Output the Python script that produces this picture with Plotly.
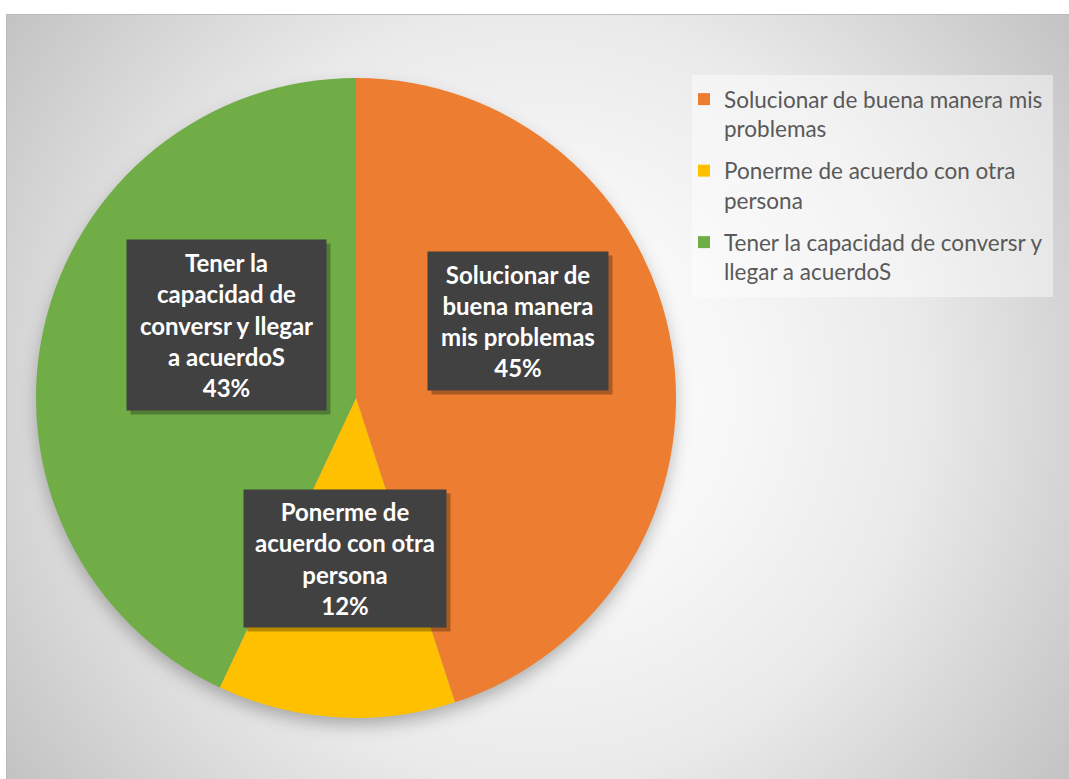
import base64
import plotly.graph_objects as go

# ---- data ----
categories = [
    "Solucionar de buena manera mis problemas",
    "Ponerme de acuerdo con otra persona",
    "Tener la capacidad de conversr y llegar a acuerdoS",
]
values = [45, 12, 43]
colors = ["#ED7D31", "#FFC000", "#70AD47"]
legend_labels = [
    "Solucionar de buena manera mis<br>problemas",
    "Ponerme de acuerdo con otra<br>persona",
    "Tener la capacidad de conversr y<br>llegar a acuerdoS",
]
box_labels = [
    "Solucionar de<br>buena manera<br>mis problemas",
    "Ponerme de<br>acuerdo con otra<br>persona",
    "Tener la<br>capacidad de<br>conversr y llegar<br>a acuerdoS",
]

W, H = 1069, 779
FONT = "Lato, 'Open Sans', sans-serif"

# background: radial gradient + soft pie shadow + legend panel
bg_w, bg_h = 1063, 765
svg = f'''<svg xmlns="http://www.w3.org/2000/svg" width="{bg_w}" height="{bg_h}" viewBox="0 0 {bg_w} {bg_h}">
<defs>
<radialGradient id="g" gradientUnits="userSpaceOnUse" cx="531" cy="382" r="660">
<stop offset="0" stop-color="#ffffff"/>
<stop offset="0.3" stop-color="#f7f7f7"/>
<stop offset="0.58" stop-color="#eaeaea"/>
<stop offset="1" stop-color="#c2c2c2"/>
</radialGradient>
<filter id="b" x="-20%" y="-20%" width="140%" height="140%"><feGaussianBlur stdDeviation="9"/></filter>
</defs>
<rect width="{bg_w}" height="{bg_h}" fill="url(#g)"/>
<rect x="0.5" y="0.5" width="{bg_w}" height="{bg_h}" fill="none" stroke="#bdbdbd" stroke-width="1"/>
<circle cx="350" cy="392" r="318" fill="rgba(0,0,0,0.30)" filter="url(#b)"/>
<rect x="686" y="61" width="361" height="222" fill="rgba(255,255,255,0.45)"/>
</svg>'''
src = "data:image/svg+xml;base64," + base64.b64encode(svg.encode()).decode()

cx, cy, R = 356, 398, 320
fig = go.Figure()
fig.add_trace(go.Pie(
    labels=categories,
    values=values,
    sort=False,
    direction="clockwise",
    rotation=0,
    marker=dict(colors=colors, line=dict(width=0)),
    textinfo="none",
    hoverinfo="label+percent",
    showlegend=False,
    domain=dict(x=[(cx - R) / W, (cx + R) / W], y=[1 - (cy + R) / H, 1 - (cy - R) / H]),
))

# legend entries (one per category, so the gap between entries can be set)
for i, (lab, col) in enumerate(zip(legend_labels, colors)):
    fig.add_trace(go.Scatter(
        x=[None], y=[None], mode="markers", name=lab, legendgroup=f"g{i}",
        marker=dict(symbol="square", size=12, color=col, line=dict(width=0)),
        hoverinfo="skip",
    ))

# label box positions (px centres) and sizes
box_pos = [(518, 321, 180, 138), (345, 558, 202, 137), (226, 325, 199, 170)]
total = sum(values)
annotations = []
for lab, v, (bx, by, bw, bh) in zip(box_labels, values, box_pos):
    txt = f"<b>{lab}<br>{round(100 * v / total)}%</b>"
    common = dict(xref="paper", yref="paper", xanchor="center", yanchor="middle",
                  showarrow=False, width=bw, height=bh, borderpad=0,
                  align="center", valign="middle")
    # shadow box (no text)
    annotations.append(dict(
        x=(bx + 4) / W, y=1 - (by + 4) / H, text=" ",
        font=dict(family=FONT, size=24, color="rgba(0,0,0,0)"),
        bgcolor="rgba(0,0,0,0.28)", **common,
    ))
    annotations.append(dict(
        x=bx / W, y=1 - by / H, text=txt,
        font=dict(family=FONT, size=24, color="#ffffff"),
        bgcolor="#414141", **common,
    ))

fig.update_layout(
    width=W, height=H,
    margin=dict(l=0, r=0, t=0, b=0),
    paper_bgcolor="#ffffff",
    plot_bgcolor="rgba(0,0,0,0)",
    xaxis=dict(visible=False),
    yaxis=dict(visible=False),
    images=[dict(source=src, xref="paper", yref="paper", x=6 / W, y=1 - 14 / H,
                 sizex=bg_w / W, sizey=bg_h / H, xanchor="left", yanchor="top",
                 sizing="stretch", layer="below")],
    showlegend=True,
    legend=dict(
        x=684 / W, y=1 - 78 / H, xanchor="left", yanchor="top",
        bgcolor="rgba(0,0,0,0)",
        font=dict(family=FONT, size=22.5, color="#595959"),
        valign="top", traceorder="grouped", tracegroupgap=10,
    ),
    annotations=annotations,
)

fig.write_html("out.html", config={"displayModeBar": False},
               post_script="document.body.style.margin='0';")
